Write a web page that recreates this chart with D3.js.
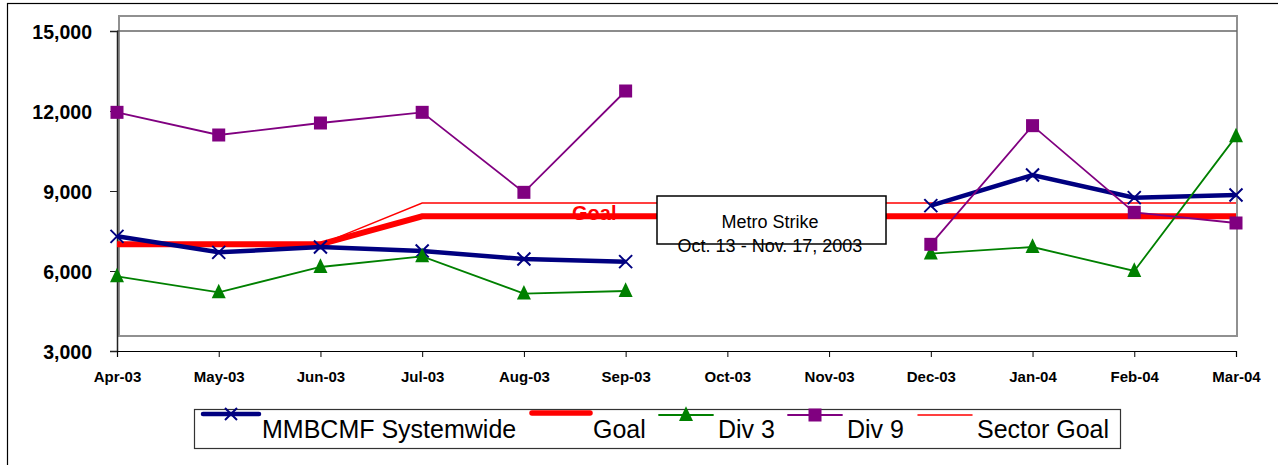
<!DOCTYPE html>
<html>
<head>
<meta charset="utf-8">
<script src="https://cdn.jsdelivr.net/npm/d3@7/dist/d3.min.js"></script>
<style>
  html, body { margin: 0; padding: 0; background: #fff; }
  svg { display: block; font-family: "Liberation Sans", Arial, sans-serif; }
</style>
</head>
<body>
<svg id="chart" width="1278" height="465"></svg>
<script>
// Monthly values, April 2003 – March 2004 (no data during the Oct–Nov strike)
const months = ["Apr-03", "May-03", "Jun-03", "Jul-03", "Aug-03", "Sep-03",
                "Oct-03", "Nov-03", "Dec-03", "Jan-04", "Feb-04", "Mar-04"];
const systemwide = [7300, 6700, 6900, 6750, 6450, 6350, null, null, 8450, 9600, 8750, 8850];
const goal       = [7000, 7000, 7000, 8050, 8050, 8050, 8050, 8050, 8050, 8050, 8050, 8050];
const div3       = [5800, 5200, 6150, 6550, 5150, 5250, null, null, 6650, 6900, 6000, 11050];
const div9       = [11950, 11100, 11550, 11950, 8950, 12750, null, null, 7000, 11450, 8200, 7800];
const sectorGoal = [7000, 7000, 7000, 8550, 8550, 8550, 8550, 8550, 8550, 8550, 8550, 8550];
const yTicks     = [3000, 6000, 9000, 12000, 15000];
const seriesNames = ["MMBCMF Systemwide", "Goal", "Div 3", "Div 9", "Sector Goal"];
const strikeNote = ["Metro Strike", "Oct. 13 - Nov. 17, 2003"];

const svg = d3.select("#chart");

const x = d3.scalePoint().domain(months).range([117, 1236]);
const y = d3.scaleLinear().domain([3000, 15000]).range([351, 31]);

// outer chart border
svg.append("rect").attr("x", 7.5).attr("y", 3.5).attr("width", 1300).attr("height", 500)
  .attr("fill", "none").attr("stroke", "#000").attr("stroke-width", 1.2);

// plot area frame
svg.append("rect").attr("x", 119).attr("y", 16).attr("width", 1118).attr("height", 320)
  .attr("fill", "none").attr("stroke", "#909090").attr("stroke-width", 2);
svg.append("line").attr("x1", 117).attr("x2", 1237).attr("y1", y(15000)).attr("y2", y(15000))
  .attr("stroke", "#666").attr("stroke-width", 1.5);

// y axis
const yAxis = svg.append("g").attr("transform", "translate(117,0)")
  .call(d3.axisLeft(y).tickValues(yTicks).tickSize(7).tickPadding(18).tickFormat(d3.format(",")));
yAxis.select(".domain").attr("stroke", "#222").attr("stroke-width", 1.5);
yAxis.selectAll(".tick line").attr("stroke", "#222");
yAxis.selectAll(".tick text").attr("font-size", 19.5).attr("font-weight", "bold")
  .attr("fill", "#000").attr("font-family", "'Liberation Sans', Arial, sans-serif")
  .attr("dy", "0.36em");

// x axis
const xAxis = svg.append("g").attr("transform", "translate(0,351)")
  .call(d3.axisBottom(x).tickSize(6).tickPadding(14));
xAxis.select(".domain").attr("stroke", "#000").attr("stroke-width", 1.2);
xAxis.selectAll(".tick line").attr("stroke", "#000");
xAxis.selectAll(".tick text").attr("font-size", 15).attr("font-weight", "bold")
  .attr("fill", "#000").attr("font-family", "'Liberation Sans', Arial, sans-serif");

function linePath(values) {
  return d3.line().defined(d => d.v != null).x(d => x(d.m)).y(d => y(d.v))(
    values.map((v, i) => ({ m: months[i], v })));
}
function pts(values) {
  return values.map((v, i) => ({ m: months[i], v })).filter(d => d.v != null);
}

const plot = svg.append("g");

// goal lines
plot.append("path").attr("d", linePath(goal)).attr("fill", "none")
  .attr("stroke", "#ff0000").attr("stroke-width", 6);
plot.append("path").attr("d", linePath(sectorGoal)).attr("fill", "none")
  .attr("stroke", "#ff0000").attr("stroke-width", 1.5);
plot.append("text").attr("x", 572).attr("y", 220).text("Goal")
  .attr("fill", "#ff0000").attr("font-size", 20).attr("font-weight", "bold");

// marker shapes
function xMark(sel, cx, cy, r) {
  sel.append("path")
    .attr("d", `M${cx - r},${cy - r}L${cx + r},${cy + r}M${cx - r},${cy + r}L${cx + r},${cy - r}`)
    .attr("stroke", "#000080").attr("stroke-width", 2).attr("fill", "none");
}
function triMark(sel, cx, cy, s, color) {
  sel.append("path")
    .attr("d", `M${cx},${cy - s * 0.62}L${cx + s / 2},${cy + s * 0.42}L${cx - s / 2},${cy + s * 0.42}Z`)
    .attr("fill", color);
}
function sqMark(sel, cx, cy, s, color) {
  sel.append("rect").attr("x", cx - s / 2).attr("y", cy - s / 2)
    .attr("width", s).attr("height", s).attr("fill", color);
}

// MMBCMF Systemwide
plot.append("path").attr("d", linePath(systemwide)).attr("fill", "none")
  .attr("stroke", "#000080").attr("stroke-width", 4.5);
pts(systemwide).forEach(d => xMark(plot, x(d.m), y(d.v), 6.5));

// Div 3
plot.append("path").attr("d", linePath(div3)).attr("fill", "none")
  .attr("stroke", "#008000").attr("stroke-width", 1.8);
pts(div3).forEach(d => triMark(plot, x(d.m), y(d.v), 14, "#008000"));

// Div 9
plot.append("path").attr("d", linePath(div9)).attr("fill", "none")
  .attr("stroke", "#800080").attr("stroke-width", 1.8);
pts(div9).forEach(d => sqMark(plot, x(d.m), y(d.v), 13, "#800080"));

// strike annotation
const note = svg.append("g");
note.append("rect").attr("x", 657).attr("y", 196).attr("width", 229).attr("height", 48)
  .attr("fill", "#fff").attr("stroke", "#000").attr("stroke-width", 1.5);
note.selectAll("text").data(strikeNote).join("text")
  .attr("x", 770).attr("y", (d, i) => 228 + i * 24)
  .attr("text-anchor", "middle").attr("font-size", 18).attr("fill", "#000")
  .text(d => d);

// legend
const legend = svg.append("g");
legend.append("rect").attr("x", 194.5).attr("y", 409.5).attr("width", 926).attr("height", 39)
  .attr("fill", "#fff").attr("stroke", "#333").attr("stroke-width", 1.2);
const legendItems = [
  { name: seriesNames[0], x1: 203, x2: 259, ly: 414, tx: 262, color: "#000080", w: 4.5, mark: "x" },
  { name: seriesNames[1], x1: 532, x2: 590, ly: 413, tx: 593, color: "#ff0000", w: 5.5, mark: null },
  { name: seriesNames[2], x1: 659, x2: 713, ly: 415, tx: 718, color: "#008000", w: 1.8, mark: "tri" },
  { name: seriesNames[3], x1: 788, x2: 842, ly: 415, tx: 847, color: "#800080", w: 1.8, mark: "sq" },
  { name: seriesNames[4], x1: 918, x2: 972, ly: 415, tx: 977, color: "#ff0000", w: 1.5, mark: null }
];
legendItems.forEach(it => {
  legend.append("line").attr("x1", it.x1).attr("x2", it.x2).attr("y1", it.ly).attr("y2", it.ly)
    .attr("stroke", it.color).attr("stroke-width", it.w).attr("stroke-linecap", "round");
  const cx = (it.x1 + it.x2) / 2;
  if (it.mark === "x") xMark(legend, cx, it.ly, 6);
  if (it.mark === "tri") triMark(legend, cx, it.ly, 14, it.color);
  if (it.mark === "sq") sqMark(legend, cx, it.ly, 13, it.color);
  legend.append("text").attr("x", it.tx).attr("y", 437.5).attr("font-size", 25)
    .attr("fill", "#000").text(it.name);
});
</script>
</body>
</html>
